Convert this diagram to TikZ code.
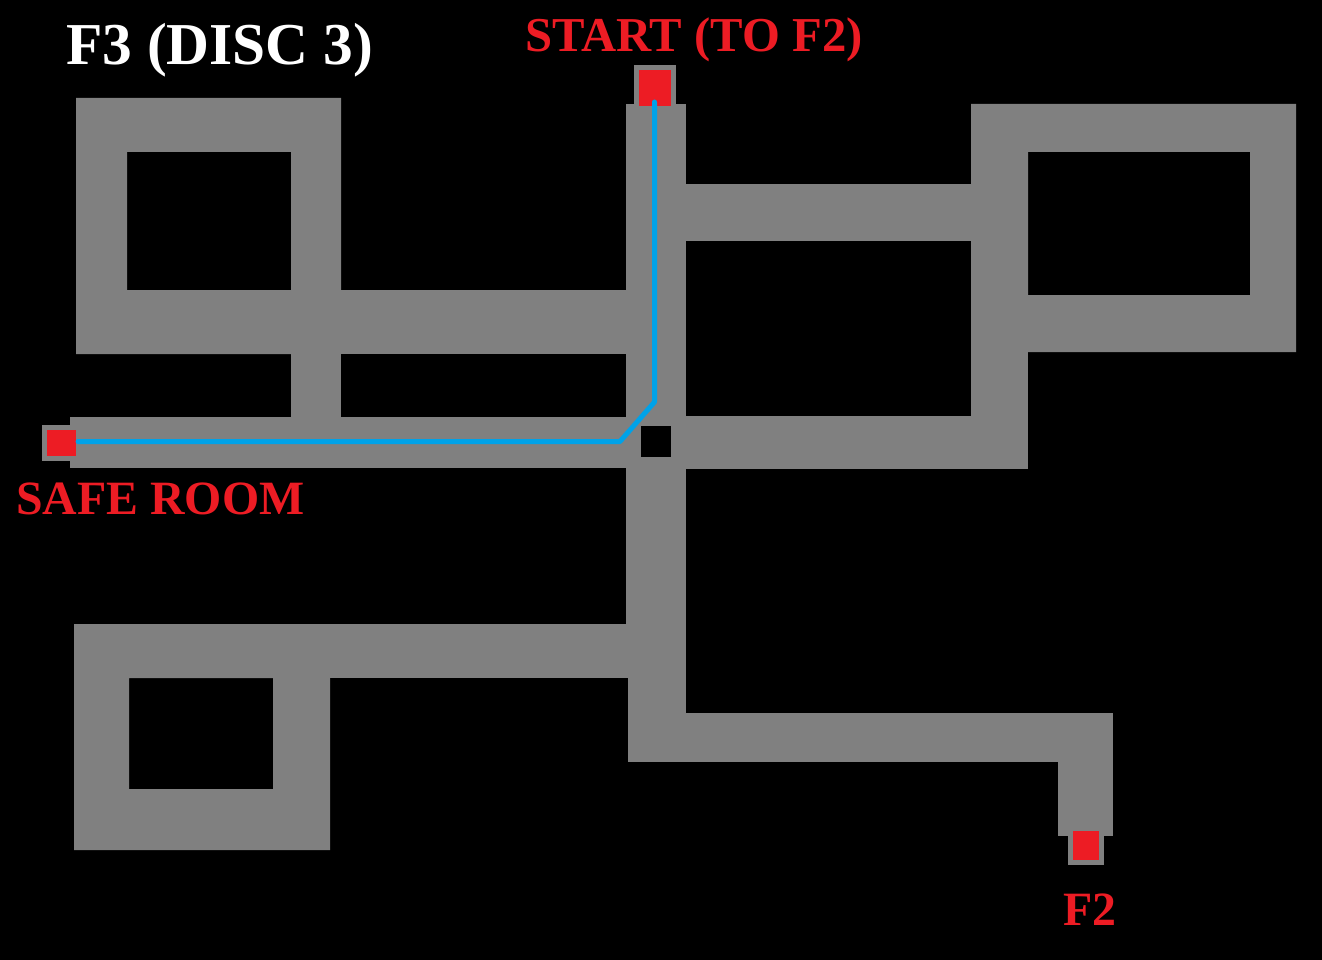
\documentclass[tikz,border=0pt]{standalone}
\usepackage{fontspec}
\setmainfont{Liberation Serif}
\definecolor{hall}{HTML}{808080}
\definecolor{mark}{HTML}{ED1C24}
\definecolor{route}{HTML}{00A2E8}
\tikzset{
  hallway/.style={fill=hall,draw=none},
  doorway/.style={fill=mark,draw=none},
  routeline/.style={draw=route,line width=5pt,line join=round,line cap=round},
  titletext/.style={font=\bfseries\fontsize{59.4}{60}\selectfont,text=white,anchor=base west,inner sep=0pt},
  redtext/.style={font=\bfseries\fontsize{47.8}{48}\selectfont,text=mark,anchor=base west,inner sep=0pt},
  redwide/.style={redtext,font=\bfseries\fontsize{48.7}{49}\selectfont}
}
\begin{document}
\begin{tikzpicture}[x=1pt,y=-1pt]
\useasboundingbox (0,0) rectangle (1322,960);
\fill[black] (0,0) rectangle (1322,960);
% top-left loop
\fill[hallway,even odd rule] (76,98) rectangle (341,354) (127,152) rectangle (291,290);
\fill[hallway] (341,290) rectangle (640,354);
\fill[hallway] (291,354) rectangle (341,420);
\fill[hallway] (70,417) rectangle (640,468);
% main vertical
\fill[hallway] (626,104) rectangle (686,640);
\fill[hallway] (628,640) rectangle (686,762);
% right side
\fill[hallway] (686,184) rectangle (975,241);
\fill[hallway,even odd rule] (971,104) rectangle (1296,352) (1028,152) rectangle (1250,295);
\fill[hallway] (971,352) rectangle (1028,469);
\fill[hallway] (686,416) rectangle (975,469);
% bottom-left loop
\fill[hallway,even odd rule] (74,624) rectangle (330,850) (129,678) rectangle (273,789);
\fill[hallway] (330,624) rectangle (640,678);
% bottom-right corridor
\fill[hallway] (628,713) rectangle (1113,762);
\fill[hallway] (1058,713) rectangle (1113,836);
% door frames
\fill[hallway] (634,65) rectangle (676,110);
\fill[hallway] (42,425) rectangle (75,461);
\fill[hallway] (1068,830) rectangle (1104,865);
% red squares
\fill[doorway] (639,70) rectangle (671,106);
\fill[doorway] (47,430) rectangle (76,456);
\fill[doorway] (1073,831) rectangle (1099,860);
% black pillar
\fill[black] (641,426) rectangle (671,457);
% route
\coordinate (routeA) at (654.5,102);
\coordinate (routeB) at (654.5,402);
\coordinate (routeC) at (620,441.5);
\coordinate (routeD) at (78,441.5);
\draw[routeline] (routeA) -- (routeB) -- (routeC) -- (routeD);
% labels
\node[titletext] (title) at (66,65) {F3 (DISC 3)};
\node[redwide] (start) at (525,52) {START (TO F2)};
\node[redtext] (safe) at (16,514) {SAFE ROOM};
\node[redtext] (ftwo) at (1063,925) {F2};
\end{tikzpicture}
\end{document}
